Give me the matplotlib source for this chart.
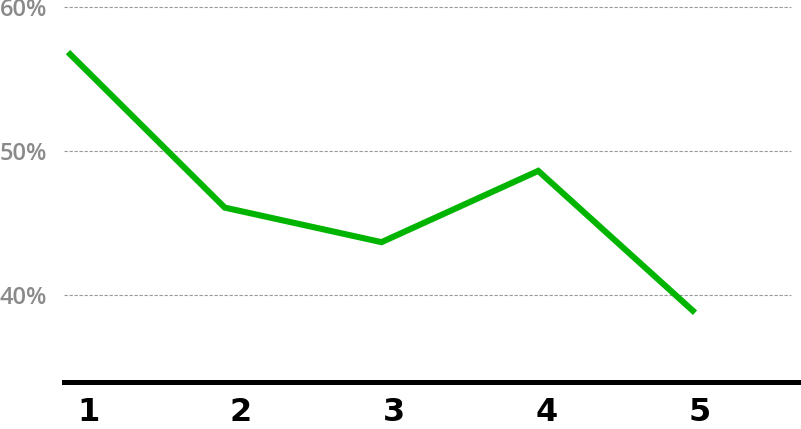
import matplotlib
matplotlib.use("Agg")
import matplotlib.pyplot as plt
import numpy as np

categories = ["1", "2", "3", "4", "5"]
values = [56.9, 46.1, 43.7, 48.65, 38.8]
ytick_vals = [40, 50, 60]
ytick_labels = ["40%", "50%", "60%"]

W, H = 801, 429
fig = plt.figure(figsize=(W / 100, H / 100), dpi=100)

# axes geometry in pixels
left_px, right_px = 64, 801
y_bottom_px = 381.8          # position of 34%
px_per_pct = 14.41
y60_px = 7.5
ymin, ymax = 34, 61
top_px = y60_px - (ymax - 60) * px_per_pct
ax = fig.add_axes([left_px / W, 1 - y_bottom_px / H,
                   (right_px - left_px) / W, (y_bottom_px - top_px) / H])

x = np.arange(1, len(values) + 1)
sp = 156.75
ax.set_xlim(1 - (68 - left_px) / sp, 1 + (right_px - 68) / sp)
ax.set_ylim(ymin, ymax)

for v in ytick_vals:
    ax.axhline(v, xmin=0, xmax=(791 - left_px) / (right_px - left_px),
               color="#9a9a9a", lw=0.8, linestyle=(0, (3, 1.5)), zorder=1)

ax.plot(x, values, color="#00b400", lw=4.4, solid_capstyle="butt",
        solid_joinstyle="miter", zorder=3)

for s in ["top", "right", "left"]:
    ax.spines[s].set_visible(False)
ax.spines["bottom"].set_linewidth(3.6)
ax.spines["bottom"].set_color("black")

ax.set_yticks(ytick_vals)
ax.set_yticklabels(ytick_labels, fontfamily="Open Sans", fontsize=17,
                   fontweight="semibold", color="#8a8a8a")
ax.tick_params(axis="y", length=0, pad=12)

label_pos = 1.128 + np.arange(len(categories)) * 0.976
ax.set_xticks(label_pos)
ax.set_xticklabels(categories, fontfamily=["Liberation Sans Narrow", "DejaVu Sans"],
                   fontweight="bold", fontsize=23, color="black")
ax.tick_params(axis="x", length=0, pad=11)

fig.savefig("out.png", dpi=100)
